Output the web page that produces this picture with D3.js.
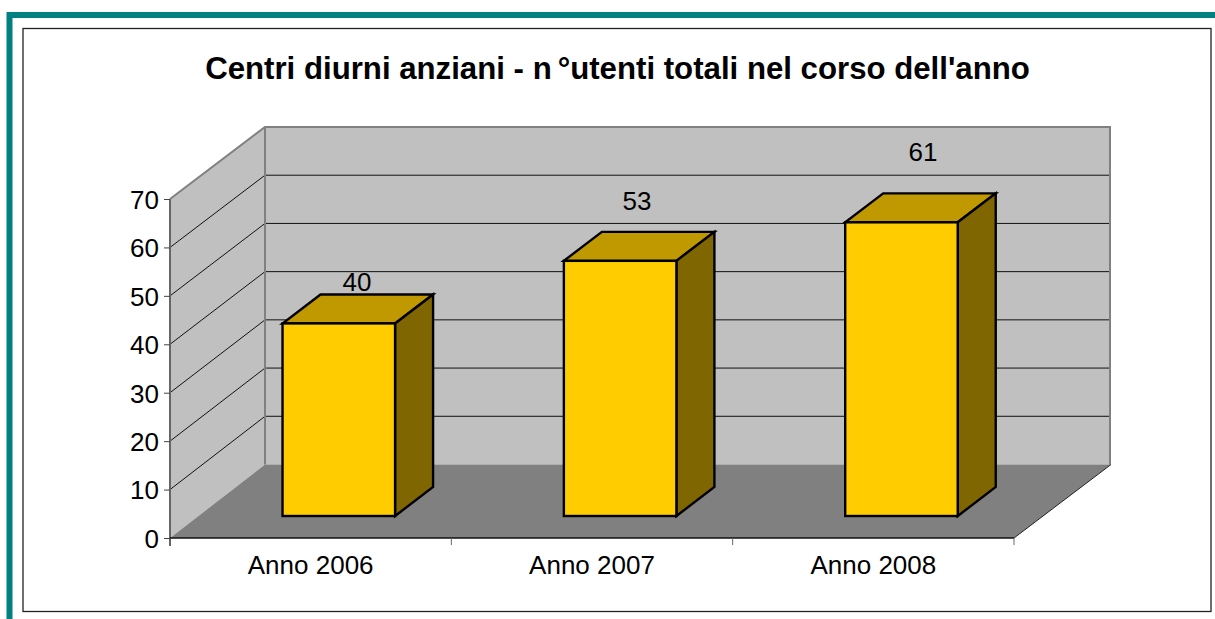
<!DOCTYPE html>
<html><head><meta charset="utf-8">
<script src="https://cdn.jsdelivr.net/npm/d3@7/dist/d3.min.js"></script>
<style>html,body{margin:0;padding:0;background:#fff}svg{display:block}text{font-family:"Liberation Sans",Arial,sans-serif;fill:#000}</style>
</head><body><svg id="c" width="1215" height="619"></svg>
<script>
const titleBefore = "Centri diurni anziani - n";
const titleAfter = "°utenti totali nel corso dell'anno";
const categories = ["Anno 2006", "Anno 2007", "Anno 2008"];
const values = [40, 53, 61];
const yTicks = [0, 10, 20, 30, 40, 50, 60, 70];

const svg = d3.select("#c");
// page frame
svg.append("path").attr("d","M9.5 619V15H1215").attr("fill","none").attr("stroke","#008080").attr("stroke-width",6);
svg.append("rect").attr("x",23).attr("y",28.5).attr("width",1188).attr("height",583).attr("fill","#fff").attr("stroke","#222").attr("stroke-width",1.3);
const title = svg.append("text").attr("x",617.5).attr("y",79).attr("text-anchor","middle").attr("font-size",31.2).attr("font-weight","bold");
title.append("tspan").text(titleBefore);
title.append("tspan").attr("dx",6).text(titleAfter);

const x0 = 170, x1 = 1014, y0 = 538, y70 = 199, dx = 95, wallW = 845, floorY = 464.5;
const x = d3.scaleBand().domain(categories).range([x0, x1]);
const y = d3.scaleLinear().domain([0, 70]).range([y0, y70]);
const yBack = d3.scaleLinear().domain([0, 70]).range([floorY, 127]);
const yBar = d3.scaleLinear().domain([0, 70]).range([516, 179]);
const barW = x.bandwidth()*0.4, barDx = 38, barDy = -29;
const barX = d => x(d) + x.bandwidth()*0.4;
const labelY = d3.scaleLinear().domain([40, 61]).range([290.5, 160.5]);
const labelX = d3.scaleOrdinal().domain(categories).range([357, 637, 923]);

const pts = a => a.map(p=>p.join(",")).join(" ");
// side wall, back wall, floor
svg.append("polygon").attr("points",pts([[x0,y(70)],[x0+dx,yBack(70)],[x0+dx,floorY],[x0,y0]])).attr("fill","#c0c0c0");
svg.append("rect").attr("x",x0+dx).attr("y",yBack(70)).attr("width",wallW).attr("height",floorY-yBack(70)).attr("fill","#c0c0c0");
svg.append("polygon").attr("points",pts([[x0,y0],[x1,y0],[x0+dx+wallW+1,floorY],[x0+dx,floorY]])).attr("fill","#808080");
// gridlines
const grid = svg.append("g").attr("fill","none").attr("stroke","#111").attr("stroke-width",1);
yTicks.filter(t=>t>0&&t<70).forEach(t=>{
  grid.append("polyline").attr("points",pts([[x0,y(t)],[x0+dx,yBack(t)],[x0+dx+wallW,yBack(t)]]));
});
// wall edges
svg.append("polyline").attr("points",pts([[x0,y(70)],[x0+dx,yBack(70)],[x0+dx+wallW,yBack(70)],[x0+dx+wallW,floorY]])).attr("fill","none").attr("stroke","#808080").attr("stroke-width",2);
svg.append("line").attr("x1",x0+dx).attr("x2",x0+dx).attr("y1",yBack(70)).attr("y2",floorY).attr("stroke","#808080").attr("stroke-width",2);
svg.append("line").attr("x1",x1).attr("y1",y0).attr("x2",x0+dx+wallW+1).attr("y2",floorY).attr("stroke","#222").attr("stroke-width",1);

// bars
const bars = svg.append("g").selectAll("g").data(values).join("g");
const st = s => s.attr("stroke","#000").attr("stroke-width",2.4).attr("stroke-linejoin","miter");
bars.append("polygon").attr("fill","#c09900").call(st).attr("points",(d,i)=>{const l=barX(categories[i]),t=yBar(d);return pts([[l,t],[l+barW,t],[l+barW+barDx,t+barDy],[l+barDx,t+barDy]]);});
bars.append("polygon").attr("fill","#806600").call(st).attr("points",(d,i)=>{const r=barX(categories[i])+barW,t=yBar(d);return pts([[r,t],[r+barDx,t+barDy],[r+barDx,yBar(0)+barDy],[r,yBar(0)]]);});
bars.append("rect").attr("fill","#ffcc00").call(st).attr("x",(d,i)=>barX(categories[i])).attr("y",d=>yBar(d)).attr("width",barW).attr("height",d=>yBar(0)-yBar(d));
bars.append("text").attr("text-anchor","middle").attr("font-size",26)
  .attr("x",(d,i)=>labelX(categories[i])).attr("y",d=>labelY(d)).text(d=>d);

// axes
const ax = svg.append("g").attr("transform",`translate(${x0},0)`).call(d3.axisLeft(y).tickValues(yTicks).tickSize(6).tickPadding(5));
ax.select(".domain").attr("stroke","#666").attr("stroke-width",2).attr("d",`M0,${y(70)}V${y0+8}`);
ax.selectAll(".tick line").attr("stroke","#444").attr("stroke-width",1);
ax.selectAll("text").attr("font-size",26).attr("font-family",null).attr("dy","0.36em");
const bx = svg.append("g").attr("transform",`translate(0,${y0})`).call(d3.axisBottom(x).tickSize(0).tickPadding(18));
bx.select(".domain").attr("stroke","#111").attr("stroke-width",1.5).attr("d",`M${x0},0H${x1}`);
bx.selectAll("text").attr("font-size",26).attr("font-family",null).attr("dy","0.71em");
svg.append("g").attr("stroke","#666").attr("stroke-width",1)
  .selectAll("line").data(d3.range(1,4)).join("line")
  .attr("x1",i=>x0+i*x.step()).attr("x2",i=>x0+i*x.step()).attr("y1",y0).attr("y2",y0+7);
</script></body></html>
